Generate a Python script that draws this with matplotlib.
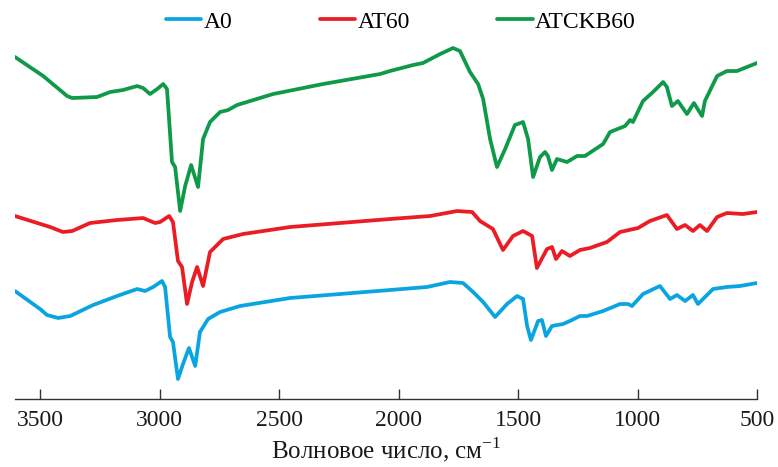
import matplotlib
matplotlib.use("Agg")
import matplotlib.pyplot as plt

plt.rcParams['font.family'] = ['Liberation Serif', 'DejaVu Serif']
plt.rcParams['mathtext.fontset'] = 'custom'
plt.rcParams['mathtext.rm'] = 'Liberation Serif'

# IR spectra (wavenumber, cm-1 ; transmittance, a.u.)
wn_a0 = [3605, 3500, 3471, 3425, 3374, 3278, 3178, 3094, 3061, 3027, 2990, 2977,
         2956, 2944, 2923, 2902, 2877, 2851, 2831, 2797, 2747, 2663, 2454, 2036,
         1881, 1785, 1730, 1688, 1646, 1596, 1546, 1504, 1479, 1462, 1446, 1416,
         1400, 1383, 1358, 1312, 1283, 1241, 1211, 1144, 1073, 1040, 1023, 977,
         906, 864, 835, 801, 768, 747, 726, 684, 626, 571, 500]
t_a0 = [108, 90, 84, 81, 83, 94, 103, 110, 108, 112, 118, 112,
        62, 57, 20, 35, 51, 33, 67, 80, 87, 93, 101, 109,
        112, 117, 116, 107, 97, 82, 95, 103, 100, 73, 59, 78,
        79, 63, 73, 75, 78, 83, 83, 88, 95, 95, 93, 105,
        113, 100, 104, 98, 104, 95, 100, 110, 112, 113, 116]

wn_at60 = [3605, 3458, 3404, 3366, 3291, 3178, 3069, 3019, 2998, 2960, 2944, 2923,
           2906, 2885, 2864, 2843, 2818, 2789, 2734, 2651, 2454, 2036, 1868, 1755,
           1692, 1659, 1605, 1563, 1521, 1479, 1441, 1421, 1379, 1358, 1341, 1316,
           1283, 1241, 1199, 1128, 1073, 998, 948, 877, 835, 801, 768, 739,
           709, 667, 626, 559, 500]
t_at60 = [183, 172, 167, 168, 176, 179, 181, 176, 177, 183, 177, 138,
          132, 95, 117, 132, 113, 147, 160, 165, 172, 180, 183, 188,
          187, 178, 170, 149, 163, 168, 163, 131, 150, 152, 140, 148,
          143, 149, 151, 157, 167, 171, 178, 184, 170, 174, 168, 174,
          168, 182, 186, 185, 187]

wn_atckb60 = [3605, 3487, 3387, 3366, 3262, 3207, 3153, 3094, 3069, 3040, 3010, 2985,
              2969, 2948, 2935, 2914, 2893, 2868, 2839, 2818, 2789, 2747, 2713, 2676,
              2525, 2316, 2077, 2036, 1939, 1898, 1826, 1772, 1743, 1701, 1667, 1646,
              1617, 1588, 1554, 1513, 1479, 1458, 1437, 1408, 1387, 1375, 1358, 1337,
              1295, 1253, 1220, 1144, 1115, 1073, 1052, 1031, 1019, 977, 935, 893,
              877, 856, 831, 793, 764, 730, 718, 667, 626, 584, 500]
t_atckb60 = [342, 323, 303, 301, 302, 307, 309, 313, 311, 305, 310, 315,
             310, 237, 232, 188, 213, 234, 212, 260, 277, 287, 289, 294,
             305, 315, 325, 328, 334, 336, 345, 351, 348, 327, 315, 300,
             260, 232, 250, 274, 277, 260, 222, 242, 247, 243, 229, 240,
             237, 243, 243, 255, 267, 271, 273, 279, 277, 298, 307, 317,
             312, 293, 298, 285, 296, 283, 298, 323, 328, 328, 336]

labels = ['A0', 'AT60', 'ATCKB60']
colors = ['#0AA5E0', '#EC1C24', '#0E9A48']

fig = plt.figure(figsize=(7.78, 4.67), dpi=100)
ax = fig.add_axes([0.0193, 0.1456, 0.9537, 0.7687])

for wn, t, lab, c in zip([wn_a0, wn_at60, wn_atckb60], [t_a0, t_at60, t_atckb60], labels, colors):
    ax.plot(wn, t, color=c, lw=2.7, label=lab, solid_joinstyle='round', solid_capstyle='round')

ax.set_xlim(3605, 500)
ax.set_ylim(0, 359)
ax.set_xticks([3500, 3000, 2500, 2000, 1500, 1000, 500])
ax.set_yticks([])
for s in ['top', 'left', 'right']:
    ax.spines[s].set_visible(False)
ax.spines['bottom'].set_color('#333333')
ax.spines['bottom'].set_linewidth(1.0)
ax.tick_params(axis='x', direction='in', length=7, width=1.0, color='#333333',
               labelsize=17, pad=8, labelcolor='#1a1a1a')
ax.set_xlabel('Волновое число, см$^{-1}$', fontsize=18, color='#1a1a1a', labelpad=3)

fig.legend(loc='center', bbox_to_anchor=(0.515, 0.953), ncol=3, frameon=False,
           fontsize=17, handlelength=1.5, handletextpad=0.1, columnspacing=3.7)

fig.savefig('out.png', dpi=100)
